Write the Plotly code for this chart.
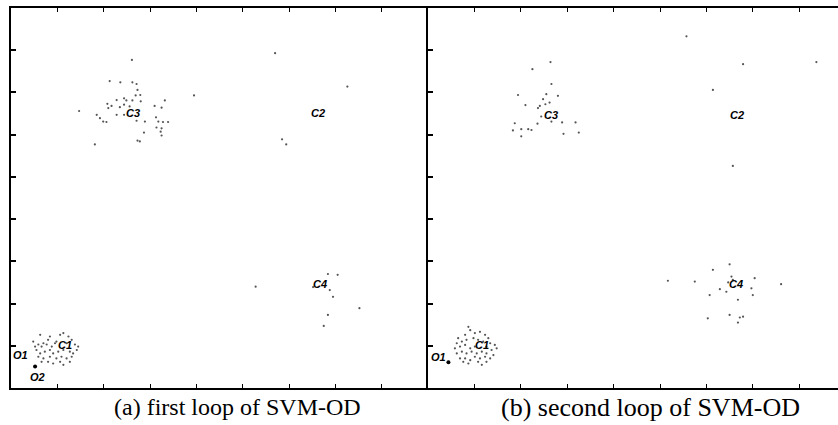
import plotly.graph_objects as go

# ---------------- data ----------------
# panel (a) first loop
a_c3_x = [2.61,2.13,2.36,2.62,2.71,2.73,2.69,2.79,2.28,2.44,2.49,2.62,2.80,2.08,2.17,2.10,2.35,2.44,2.56,3.10,3.25,3.32,1.47,1.85,2.28,2.44,2.71,2.89,3.13,3.18,3.28,3.39,1.99,2.06,3.14,3.25,3.23,3.25,2.87,2.73,2.78,1.81,3.95,1.92]
a_c3_y = [7.77,7.27,7.24,7.24,7.20,7.06,6.93,6.94,6.82,6.86,6.81,6.81,6.79,6.73,6.68,6.63,6.65,6.71,6.67,6.68,6.64,6.81,6.56,6.47,6.47,6.47,6.33,6.31,6.41,6.31,6.30,6.30,6.31,6.30,6.17,6.15,6.07,5.98,6.05,5.86,5.84,5.77,6.93,6.39]
a_c2_x = [5.70,7.26,5.85,5.94]
a_c2_y = [7.93,7.14,5.89,5.77]
a_c4_x = [6.84,7.05,6.95,6.84,6.75,7.52,5.28,6.52,6.88]
a_c4_y = [2.70,2.68,2.16,1.73,1.47,1.89,2.40,2.39,2.32]
a_c1_x = [0.84,0.80,0.63,1.06,1.13,1.24,1.31,0.98,0.70,0.59,0.66,0.77,0.88,0.95,1.20,1.38,1.45,0.55,0.63,0.73,0.84,0.91,1.02,1.13,1.27,1.34,1.42,0.59,0.70,0.84,0.98,1.09,1.20,1.31,0.66,0.80,0.91,1.06,1.13,1.27,0.48,0.52]
a_c1_y = [1.22,1.14,1.26,1.26,1.30,1.22,1.14,1.10,1.06,1.03,0.98,1.03,0.98,1.06,1.06,1.03,0.98,0.90,0.82,0.86,0.90,0.82,0.86,0.90,0.86,0.82,0.90,0.74,0.70,0.74,0.70,0.74,0.70,0.74,0.62,0.62,0.58,0.62,0.55,0.62,1.10,0.98]
a_out_x = [0.52]
a_out_y = [0.51]

# panel (b) second loop
b_c3_x = [2.64,2.25,2.66,1.94,2.55,2.48,2.80,2.62,2.53,2.10,2.41,2.37,2.44,1.87,2.01,2.01,1.83,2.16,2.23,2.36,2.66,2.89,3.18,3.25,2.92]
b_c3_y = [7.72,7.55,7.20,6.94,6.96,6.84,6.92,6.76,6.72,6.70,6.68,6.63,6.43,6.27,6.13,5.96,6.10,6.13,6.11,6.26,6.31,6.29,6.29,6.05,6.02]
b_c2_x = [5.57,6.79,8.37,6.14,6.57]
b_c2_y = [8.33,7.67,7.72,7.06,5.26]
b_c4_x = [6.50,6.14,6.54,6.57,6.47,7.04,6.29,6.43,6.97,7.00,6.68,6.50,6.72,6.79,6.68,6.03,6.07,5.75,5.17,7.61]
b_c4_y = [2.93,2.80,2.64,2.56,2.50,2.60,2.34,2.28,2.36,2.20,2.09,1.73,1.67,1.69,1.55,1.65,2.20,2.52,2.54,2.46]
b_c1_x = [0.87,0.91,0.80,1.01,1.12,1.23,1.30,0.65,0.73,0.62,0.83,0.98,1.08,1.19,1.34,1.44,1.48,0.58,0.69,0.80,0.91,1.01,1.26,1.37,0.62,0.73,0.83,0.94,1.05,1.16,1.26,1.41,0.69,0.80,0.91,1.01,1.12,1.23,1.34,0.76,0.87,1.08,1.16,1.26]
b_c1_y = [1.45,1.37,1.26,1.30,1.33,1.26,1.18,1.18,1.10,1.06,1.14,1.18,1.14,1.10,1.06,1.02,0.94,0.94,0.98,1.02,0.94,0.98,0.98,0.90,0.82,0.86,0.82,0.86,0.82,0.86,0.82,0.78,0.70,0.70,0.66,0.74,0.70,0.74,0.70,0.62,0.58,0.62,0.55,0.62]
b_out_x = [0.44]
b_out_y = [0.61]

# labels
a_lab = ["C1", "C2", "C3", "C4", "O1", "O2"]
a_lab_x = [1.16, 6.62, 2.63, 6.66, 0.21, 0.57]
a_lab_y = [1.02, 6.52, 6.52, 2.46, 0.78, 0.25]
b_lab = ["C1", "C2", "C3", "C4", "O1"]
b_lab_x = [1.16, 6.66, 2.65, 6.64, 0.22]
b_lab_y = [1.02, 6.47, 6.47, 2.46, 0.74]

captions = ["(a) first loop of SVM-OD", "(b) second loop of SVM-OD"]

# ---------------- figure ----------------
W, H = 838, 425
fig = go.Figure()

dot = dict(size=2.2, color="#555")
for xs, ys in [(a_c3_x, a_c3_y), (a_c2_x, a_c2_y), (a_c4_x, a_c4_y), (a_c1_x, a_c1_y)]:
    fig.add_trace(go.Scatter(x=xs, y=ys, mode="markers", marker=dot, xaxis="x", yaxis="y", showlegend=False))
fig.add_trace(go.Scatter(x=a_out_x, y=a_out_y, mode="markers", marker=dict(size=4, color="#000"), xaxis="x", yaxis="y", showlegend=False))
for xs, ys in [(b_c3_x, b_c3_y), (b_c2_x, b_c2_y), (b_c4_x, b_c4_y), (b_c1_x, b_c1_y)]:
    fig.add_trace(go.Scatter(x=xs, y=ys, mode="markers", marker=dot, xaxis="x2", yaxis="y2", showlegend=False))
fig.add_trace(go.Scatter(x=b_out_x, y=b_out_y, mode="markers", marker=dict(size=4, color="#000"), xaxis="x2", yaxis="y2", showlegend=False))

annotations = []
for t, x, y in zip(a_lab, a_lab_x, a_lab_y):
    annotations.append(dict(text="<b><i>%s</i></b>" % t, x=x, y=y, xref="x", yref="y", showarrow=False,
                            xanchor="center", yanchor="middle",
                            font=dict(family="Liberation Sans", size=11, color="black")))
for t, x, y in zip(b_lab, b_lab_x, b_lab_y):
    annotations.append(dict(text="<b><i>%s</i></b>" % t, x=x, y=y, xref="x2", yref="y2", showarrow=False,
                            xanchor="center", yanchor="middle",
                            font=dict(family="Liberation Sans", size=11, color="black")))
annotations.append(dict(text=captions[0], x=237 / W, y=(H - 407) / H, xref="paper", yref="paper",
                        xanchor="center", yanchor="middle",
                        showarrow=False, font=dict(family="Liberation Serif", size=24, color="black")))
annotations.append(dict(text=captions[1], x=650 / W, y=(H - 407) / H, xref="paper", yref="paper",
                        xanchor="center", yanchor="middle",
                        showarrow=False, font=dict(family="Liberation Serif", size=26, color="black")))

ticks = [1, 2, 3, 4, 5, 6, 7, 8]
xcommon = dict(showline=True, linecolor="black", linewidth=1.8, mirror="ticks", ticks="inside",
               ticklen=4, tickcolor="black", tickvals=ticks, showticklabels=False, showgrid=False, zeroline=False)
ycommon = dict(showline=True, linecolor="black", linewidth=2, mirror=False, ticks="inside",
               ticklen=5, tickcolor="black", tickwidth=1.5, tickvals=ticks, showticklabels=False,
               showgrid=False, zeroline=False, range=[0, 9])

ydom = [(H - 388) / H, (H - 8) / H]
fig.update_layout(
    width=W, height=H, margin=dict(l=0, r=0, t=0, b=0),
    paper_bgcolor="white", plot_bgcolor="white",
    xaxis=dict(domain=[11 / W, 428 / W], range=[0, 9], anchor="y", **xcommon),
    yaxis=dict(domain=ydom, anchor="x", **ycommon),
    xaxis2=dict(domain=[428 / W, 1], range=[0, (838 - 428) / 46.4], anchor="y2", **xcommon),
    yaxis2=dict(domain=ydom, anchor="x2", **ycommon),
    annotations=annotations,
)

fig.write_html("out.html")
